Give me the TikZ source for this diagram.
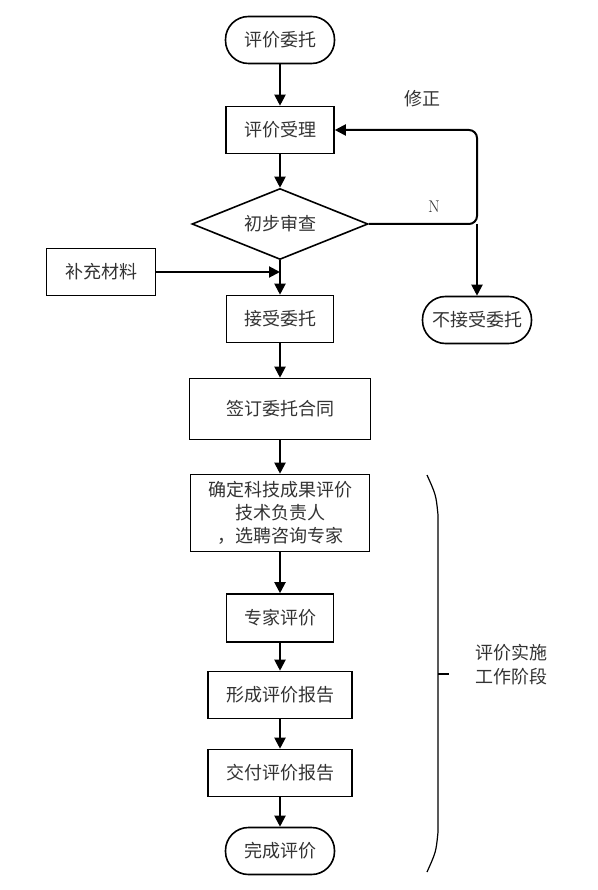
\documentclass[tikz,border=0pt]{standalone}
\usepackage{fontspec}
\newfontfamily\cjk{Noto Sans CJK SC}
\usetikzlibrary{arrows.meta,shapes.geometric,calc,positioning}

\begin{document}
\begin{tikzpicture}[x=1pt,y=-1pt,
  box/.style={draw,line width=1.6pt,minimum height=47pt,inner sep=2pt,
    font=\cjk\fontsize{18}{23}\selectfont,text=black!80},
  term/.style={box,rounded corners=23pt,minimum width=109pt},
  link/.style={line width=2pt,-{Triangle[length=11pt,width=11pt]}},
  note/.style={font=\cjk\fontsize{18}{24}\selectfont,text=black!80}]
\useasboundingbox (0,0) rectangle (597,890);
% main column
\node[term] (entrust) at (280,40) {评价委托};
\node[box,minimum width=108pt] (review) at (280,130) {评价受理};
\node[draw,diamond,line width=1.6pt,inner sep=0pt,aspect=2.48,minimum width=176pt,minimum height=71pt,
  font=\cjk\fontsize{18}{23}\selectfont,text=black!80] (check) at (280,224) {初步审查};
\node[box,minimum width=109pt] (supply) at (101,272) {补充材料};
\node[box,minimum width=107pt] (accept) at (280,319) {接受委托};
\node[term] (reject) at (477,320) {不接受委托};
\node[box,minimum width=181pt,minimum height=61pt] (contract) at (280,409) {签订委托合同};
\node[box,minimum width=179pt,minimum height=77pt,align=center] (assign) at (280,513)
  {确定科技成果评价\\技术负责人\\，选聘咨询专家};
\node[box,minimum width=107pt,minimum height=48pt] (expert) at (280,618) {专家评价};
\node[box,minimum width=144pt] (draft) at (280,695) {形成评价报告};
\node[box,minimum width=144pt] (deliver) at (280,773) {交付评价报告};
\node[term] (finish) at (280,851) {完成评价};
% connectors
\draw[link] (entrust) -- (review);
\draw[link] (review) -- (check);
\draw[link] (check.south) -- (accept);
\draw[link] (supply) -- (supply -| accept);
\coordinate (turn) at (477,224);
\draw[link,rounded corners=8pt] (check.east) -- (turn) |- (review.east);
\draw[link] (turn) -- (reject);
\draw[link] (accept) -- (contract);
\draw[link] (contract) -- (assign);
\draw[link] (assign) -- (expert);
\draw[link] (expert) -- (draft);
\draw[link] (draft) -- (deliver);
\draw[link] (deliver) -- (finish);
\node[note] (fix) at (422,99) {修正};
\node[font=\fontsize{17}{20}\selectfont,text=black!80] (no) at (434,207) {N};
% brace
\draw[line width=1.2pt] (427,475) .. controls (436,495) .. (438,515) -- (438,832)
  .. controls (436,852) .. (427,872);
\draw[line width=1.2pt] (438,674) coordinate (tip) -- (449,674);
\node[note,align=center] (phase) at (511,665) {评价实施\\工作阶段};
\end{tikzpicture}
\end{document}
